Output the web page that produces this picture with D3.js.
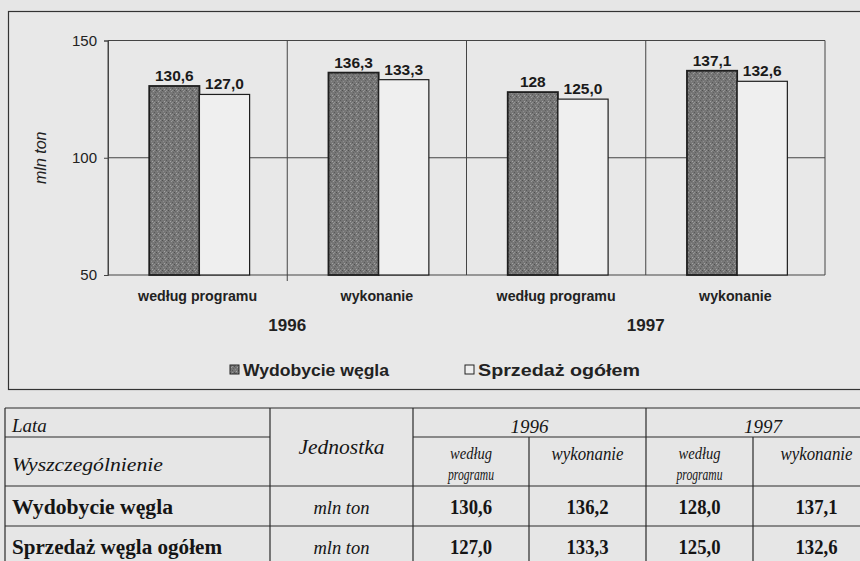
<!DOCTYPE html>
<html><head><meta charset="utf-8">
<script src="https://cdn.jsdelivr.net/npm/d3@7"></script>
<style>
html,body{margin:0;padding:0;background:#e6e6e6;}
svg{display:block;}
</style></head>
<body>
<svg id="c" width="860" height="561"></svg>
<script>
// ---- data ----
const categories = ["według programu","wykonanie","według programu","wykonanie"];
const years = ["1996","1997"];
const seriesNames = ["Wydobycie węgla","Sprzedaż ogółem"];
const wydobycie = [130.6, 136.3, 128, 137.1];
const sprzedaz = [127.0, 133.3, 125.0, 132.6];
const wydobycieLabels = ["130,6","136,3","128","137,1"];
const sprzedazLabels = ["127,0","133,3","125,0","132,6"];
const yTicks = [50,100,150];
const yTitle = "mln ton";

const tableHeadYears = ["1996","1997"];
const tableHeadSub = ["według\nprogramu","wykonanie","według\nprogramu","wykonanie"];
const tableRows = ["Wydobycie węgla","Sprzedaż węgla ogółem"];
const tableUnits = ["mln ton","mln ton"];
const tableWydobycie = [130.6, 136.2, 128.0, 137.1];
const tableSprzedaz = [127.0, 133.3, 125.0, 132.6];

// ---- chart ----
const svg = d3.select("#c");
const sans = "'Liberation Sans', Arial, sans-serif";
const serif = "'Liberation Serif', 'Times New Roman', serif";
const ink = "#222";

const defs = svg.append("defs");
const pat = defs.append("pattern").attr("id","stip").attr("width",6).attr("height",6).attr("patternUnits","userSpaceOnUse");
pat.append("rect").attr("width",6).attr("height",6).attr("fill","#767676");
[[0,0,"#505050"],[3,1,"#9c9c9c"],[1,3,"#8e8e8e"],[4,4,"#595959"],[2,5,"#a4a4a4"],[5,2,"#616161"],[1,1,"#686868"],[4,0,"#939393"]].forEach(d=>{
  pat.append("rect").attr("x",d[0]).attr("y",d[1]).attr("width",1).attr("height",1).attr("fill",d[2]);
});

svg.append("rect").attr("x",8.5).attr("y",11.5).attr("width",880).attr("height",378)
  .attr("fill","#e8e8e8").attr("stroke","#333").attr("stroke-width",1.2);

const y = d3.scaleLinear().domain([50,150]).range([275,40.5]);
const x0 = d3.scaleBand().domain(d3.range(categories.length)).range([108,825]).paddingInner(0);
const x1 = d3.scaleBand().domain([0,1]).range([x0.bandwidth()*0.23, x0.bandwidth()*0.79]);

const g = svg.append("g");
g.selectAll("line.h").data(yTicks).join("line")
  .attr("x1",108).attr("x2",825).attr("y1",d=>y(d)).attr("y2",d=>y(d))
  .attr("stroke","#444").attr("stroke-width",1);
g.selectAll("line.v").data(d3.range(categories.length+1)).join("line")
  .attr("x1",d=>d<categories.length? x0(d): x0(categories.length-1)+x0.bandwidth())
  .attr("x2",d=>d<categories.length? x0(d): x0(categories.length-1)+x0.bandwidth())
  .attr("y1",y(150)).attr("y2",d=>d===1?y(50)+6:y(50)).attr("stroke","#444").attr("stroke-width",1);

const ax = svg.append("g").attr("transform","translate(108,0)")
  .call(d3.axisLeft(y).tickValues(yTicks).tickSize(4).tickFormat(d3.format("d")));
ax.select(".domain").attr("stroke","#444");
ax.selectAll(".tick line").attr("stroke","#444");
ax.selectAll(".tick text").attr("font-family",sans).attr("font-size",15).attr("fill",ink).attr("dx",-4);

svg.append("text").attr("transform",`translate(46,${y(100)}) rotate(-90)`)
  .attr("text-anchor","middle").attr("font-family",sans).attr("font-style","italic")
  .attr("font-size",16).attr("fill",ink).text(yTitle);

const series = [
  {vals:wydobycie, labels:wydobycieLabels, fill:"url(#stip)"},
  {vals:sprzedaz, labels:sprzedazLabels, fill:"#efefef"}
];
series.forEach((s,si)=>{
  const bg = svg.append("g");
  bg.selectAll("rect").data(s.vals).join("rect")
    .attr("x",(d,i)=>x0(i)+x1(si)).attr("width",x1.bandwidth())
    .attr("y",d=>y(d)).attr("height",d=>y(50)-y(d))
    .attr("fill",s.fill).attr("stroke","#1e1e1e").attr("stroke-width",si===0?1.8:1.2);
  bg.selectAll("text").data(s.vals).join("text")
    .attr("x",(d,i)=>x0(i)+x1(si)+x1.bandwidth()/2).attr("y",d=>y(d)-5)
    .attr("text-anchor","middle").attr("font-family",sans).attr("font-weight","bold")
    .attr("font-size",15.5).attr("fill","#1a1a1a").text((d,i)=>s.labels[i]);
});

svg.selectAll("text.cat").data(categories).join("text").attr("class","cat")
  .attr("x",(d,i)=>x0(i)+x0.bandwidth()/2).attr("y",301)
  .attr("text-anchor","middle").attr("font-family",sans).attr("font-weight","bold")
  .attr("font-size",14.2).attr("fill",ink).text(d=>d);
svg.selectAll("text.yr").data(years).join("text").attr("class","yr")
  .attr("x",(d,i)=>x0(i*2)+x0.bandwidth()).attr("y",331)
  .attr("text-anchor","middle").attr("font-family",sans).attr("font-weight","bold")
  .attr("font-size",17).attr("fill",ink).text(d=>d);

const legX = [230,465];
const legW = [146,162];
seriesNames.forEach((n,i)=>{
  svg.append("rect").attr("x",legX[i]).attr("y",365).attr("width",9).attr("height",9)
    .attr("fill",i===0?"url(#stip)":"#efefef").attr("stroke","#222").attr("stroke-width",1);
  svg.append("text").attr("x",legX[i]+13).attr("y",376).attr("font-family",sans)
    .attr("font-weight","bold").attr("font-size",16).attr("fill",ink)
    .attr("textLength",legW[i]).attr("lengthAdjust","spacingAndGlyphs").text(n);
});

// ---- table ----
const colX = [5,270,413,529,646,753,880];
const rowY = [408,437,486,526,566];
const tl = svg.append("g").attr("stroke","#2a2a2a").attr("stroke-width",1.2);
const hl=(a,b,yy)=>tl.append("line").attr("x1",a).attr("x2",b).attr("y1",yy).attr("y2",yy);
const vl=(xx,a,b)=>tl.append("line").attr("x1",xx).attr("x2",xx).attr("y1",a).attr("y2",b);
hl(colX[0],colX[6],rowY[0]);
hl(colX[0],colX[1],rowY[1]); hl(colX[2],colX[6],rowY[1]);
hl(colX[0],colX[6],rowY[2]); hl(colX[0],colX[6],rowY[3]); hl(colX[0],colX[6],rowY[4]);
vl(colX[0],rowY[0],rowY[4]); vl(colX[1],rowY[0],rowY[4]); vl(colX[2],rowY[0],rowY[4]);
vl(colX[4],rowY[0],rowY[4]);
vl(colX[3],rowY[1],rowY[4]); vl(colX[5],rowY[1],rowY[4]);

const tt = (x,yy,txt,o)=>{
  const t = svg.append("text").attr("x",x).attr("y",yy)
  .attr("font-family",serif).attr("font-size",o.size||16).attr("fill","#151515")
  .attr("font-style",o.italic?"italic":"normal").attr("font-weight",o.bold?"bold":"normal")
  .attr("text-anchor",o.anchor||"start").text(txt);
  if(o.w) t.attr("textLength",o.w).attr("lengthAdjust","spacingAndGlyphs");
  return t;
};

tt(12,432,"Lata",{italic:true,size:19});
tt(12,471,"Wyszczególnienie",{italic:true,size:19,w:151});
tt((colX[1]+colX[2])/2,454,"Jednostka",{italic:true,size:20,anchor:"middle",w:86});
tableHeadYears.forEach((yv,i)=>tt((colX[2+i*2]+colX[4+i*2])/2,433,yv,{italic:true,size:19,anchor:"middle"}));
tableHeadSub.forEach((s,i)=>{
  const cx=(colX[2+i]+colX[3+i])/2;
  const parts=s.split("\n");
  if(parts.length===2){
    tt(cx,459,parts[0],{italic:true,size:17,anchor:"middle",w:42});
    tt(cx,480,parts[1],{italic:true,size:16,anchor:"middle",w:46});
  } else tt(cx,460,parts[0],{italic:true,size:18,anchor:"middle",w:72});
});
const fmt = v=>d3.format(".1f")(v).replace(".",",");
[tableWydobycie,tableSprzedaz].forEach((vals,r)=>{
  const yy=rowY[3+r]-12;
  tt(12,yy,tableRows[r],{bold:true,size:20,w:r===0?161:210});
  tt((colX[1]+colX[2])/2,yy,tableUnits[r],{italic:true,size:18,anchor:"middle",w:56});
  vals.forEach((v,i)=>tt((colX[2+i]+colX[3+i])/2,yy,fmt(v),{bold:true,size:20,anchor:"middle",w:42}));
});
</script>
</body></html>
